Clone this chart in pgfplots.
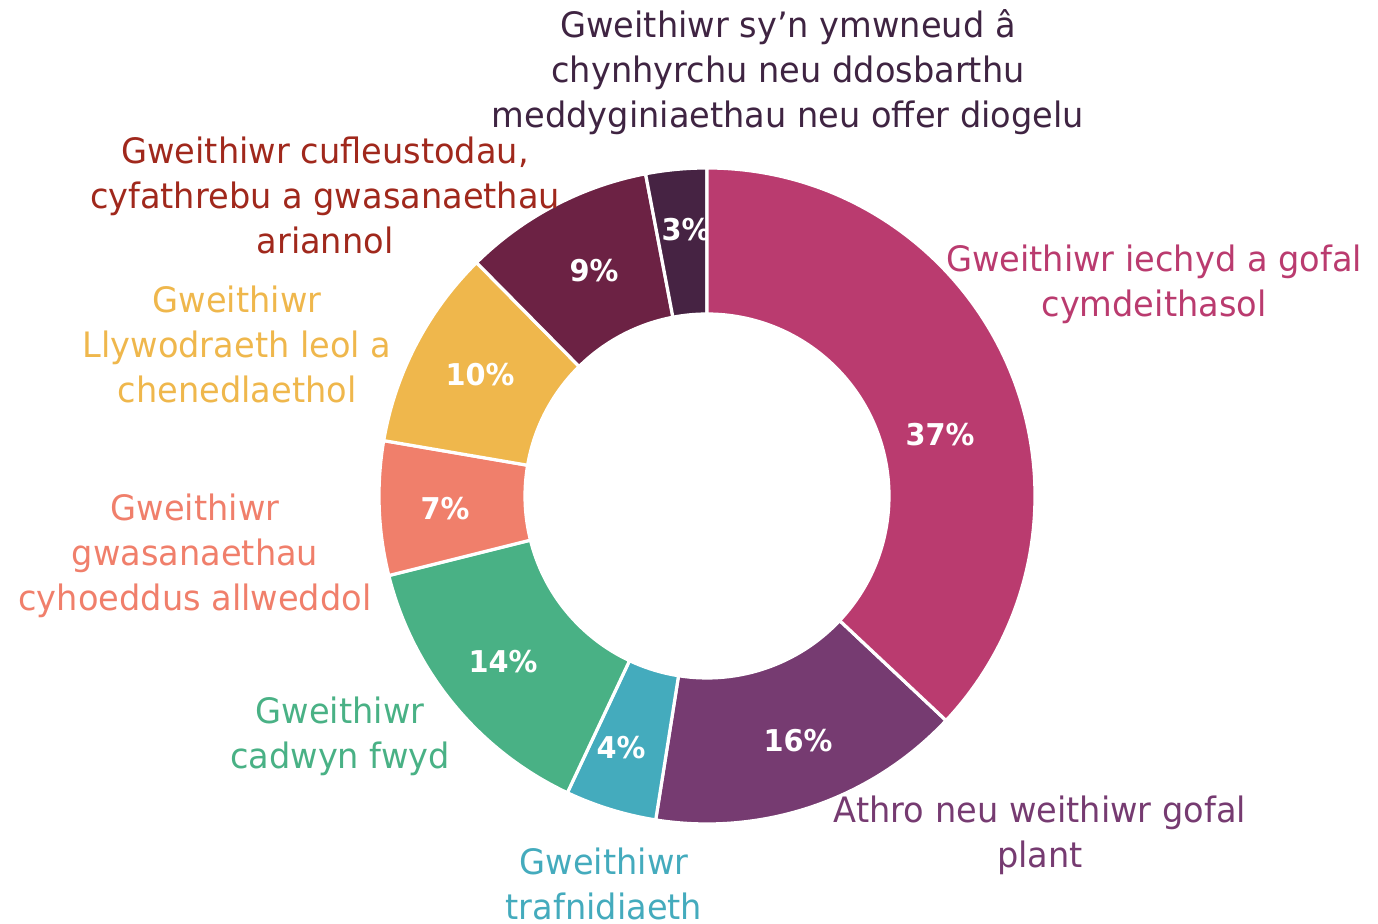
\documentclass[border=0pt]{standalone}
\usepackage{pgfplots}
\pgfplotsset{compat=1.18}
\usepackage{fontspec}
\setmainfont{DejaVu Sans}[FakeStretch=0.96]
\definecolor{cA}{HTML}{BA3B6F}
\definecolor{cB}{HTML}{763B71}
\definecolor{cC}{HTML}{44ABBD}
\definecolor{cD}{HTML}{49B185}
\definecolor{cE}{HTML}{F07F6B}
\definecolor{cF}{HTML}{EFB74C}
\definecolor{cG}{HTML}{6C2244}
\definecolor{cH}{HTML}{462343}
\definecolor{tG}{HTML}{A0281C}
\definecolor{tH}{HTML}{3F2442}
% shares (%) clockwise from the top
\def\vA{37.0}\def\vB{15.5}\def\vC{4.5}\def\vD{14.1}\def\vE{6.6}\def\vF{9.9}\def\vG{9.4}\def\vH{3.0}
\pgfmathsetmacro\aA{90}
\pgfmathsetmacro\aB{\aA-3.6*\vA}
\pgfmathsetmacro\aC{\aB-3.6*\vB}
\pgfmathsetmacro\aD{\aC-3.6*\vC}
\pgfmathsetmacro\aE{\aD-3.6*\vD}
\pgfmathsetmacro\aF{\aE-3.6*\vE}
\pgfmathsetmacro\aG{\aF-3.6*\vF}
\pgfmathsetmacro\aH{\aG-3.6*\vG}
\pgfmathsetmacro\aI{\aH-3.6*\vH}
\newcommand\slice[3]{% color, start, end
  \fill[#1, draw=white, line width=1.6pt, line join=miter]
    (axis cs:707,428) ++(#2:164pt) arc[start angle=#2, end angle=#3, radius=164pt]
    -- ++(#3+180:73pt) arc[start angle=#3, end angle=#2, radius=91pt] -- cycle;}
\newcommand\lbl{\fontsize{17.5}{22.5}\selectfont}
\newcommand\pct{\fontsize{15}{18}\selectfont\bfseries}
\begin{document}
\begin{tikzpicture}
\begin{axis}[scale only axis, width=689pt, height=462pt,
  xmin=0, xmax=1378, ymin=0, ymax=924, hide axis, clip=false]
\coordinate (bl) at (axis cs:0,0);
\coordinate (tr) at (axis cs:1378,924);
\slice{cA}{\aA}{\aB}
\slice{cB}{\aB}{\aC}
\slice{cC}{\aC}{\aD}
\slice{cD}{\aD}{\aE}
\slice{cE}{\aE}{\aF}
\slice{cF}{\aF}{\aG}
\slice{cG}{\aG}{\aH}
\slice{cH}{\aH}{\aI}
\node[text=white, font=\pct] at (axis cs:686,694) {3\%};
\slice{cA}{\aA}{\aB}
\node[text=white, font=\pct] at (axis cs:940,489) {37\%};
\node[text=white, font=\pct] at (axis cs:798,183) {16\%};
\node[text=white, font=\pct] at (axis cs:621,176) {4\%};
\node[text=white, font=\pct] at (axis cs:503,262) {14\%};
\node[text=white, font=\pct] at (axis cs:445,415) {7\%};
\node[text=white, font=\pct] at (axis cs:480,549) {10\%};
\node[text=white, font=\pct] at (axis cs:594,653) {9\%};
\node[align=center, text=tH, font=\lbl] at (axis cs:788,852) {Gweithiwr sy’n ymwneud â\\chynhyrchu neu ddosbarthu\\meddyginiaethau neu offer diogelu};
\node[align=center, text=cA, font=\lbl] at (axis cs:1154,640) {Gweithiwr iechyd a gofal\\cymdeithasol};
\node[align=center, text=cB, font=\lbl] at (axis cs:1040,89) {Athro neu weithiwr gofal\\plant};
\node[align=center, text=cC, font=\lbl] at (axis cs:604,40) {Gweithiwr\\trafnidiaeth};
\node[align=center, text=cD, font=\lbl] at (axis cs:340,188) {Gweithiwr\\cadwyn fwyd};
\node[align=center, text=cE, font=\lbl] at (axis cs:195,368) {Gweithiwr\\gwasanaethau\\cyhoeddus allweddol};
\node[align=center, text=cF, font=\lbl] at (axis cs:237,580) {Gweithiwr\\Llywodraeth leol a\\chenedlaethol};
\node[align=center, text=tG, font=\lbl] at (axis cs:325,729) {Gweithiwr cufleustodau,\\cyfathrebu a gwasanaethau\\ariannol};
\end{axis}
\pgfresetboundingbox
\useasboundingbox (bl) rectangle (tr);
\end{tikzpicture}
\end{document}
